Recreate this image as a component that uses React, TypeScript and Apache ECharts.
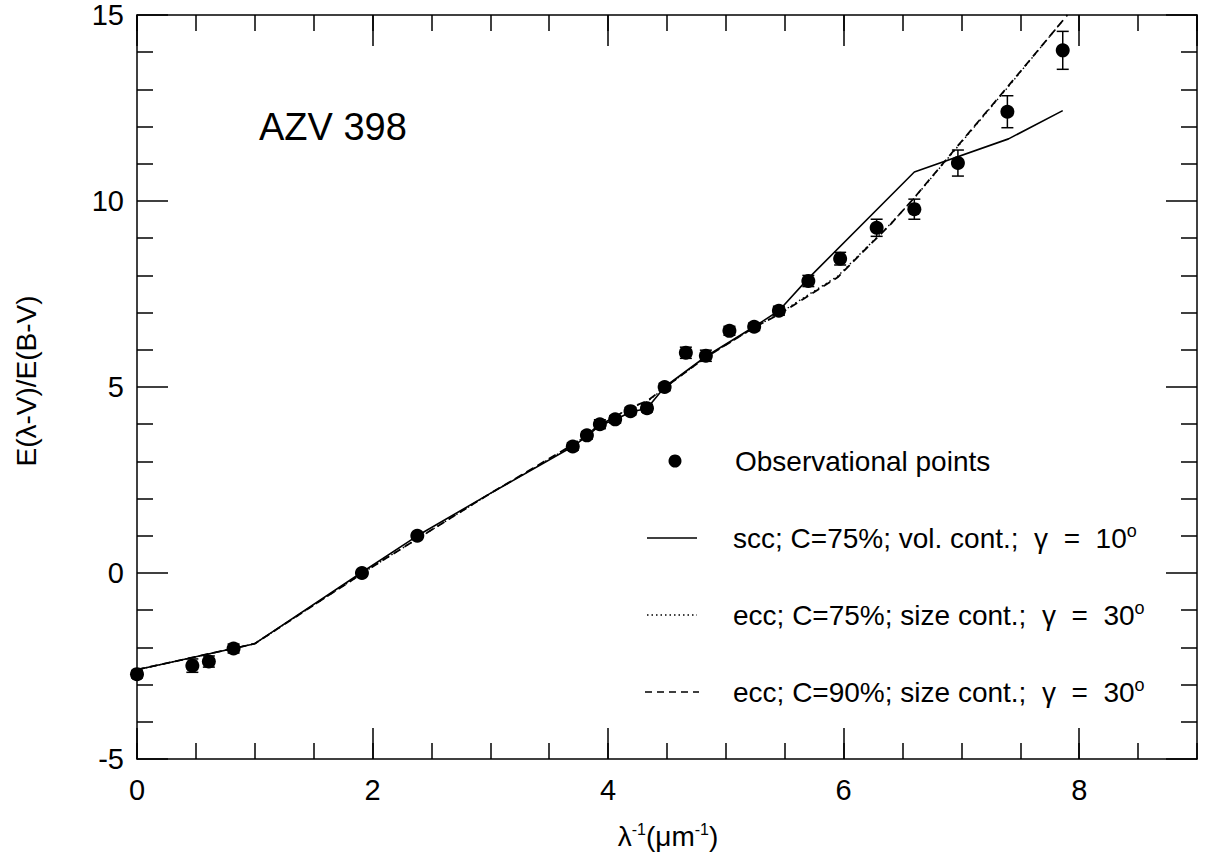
import React, { useEffect, useRef } from "react";
import * as echarts from "echarts";

// Observational points
const obsX = [0, 0.47, 0.61, 0.82, 1.91, 2.38, 3.70, 3.82, 3.93, 4.06, 4.19, 4.33, 4.48, 4.66, 4.83, 5.03, 5.24, 5.45, 5.70, 5.97, 6.28, 6.60, 6.97, 7.39, 7.86];
const obsY = [-2.72, -2.49, -2.38, -2.03, 0.0, 1.0, 3.4, 3.7, 4.0, 4.13, 4.35, 4.43, 5.0, 5.92, 5.84, 6.51, 6.62, 7.05, 7.85, 8.45, 9.28, 9.78, 11.02, 12.4, 14.05];
const obsErr = [0.1, 0.18, 0.15, 0.12, 0, 0, 0.1, 0.1, 0.12, 0.1, 0.1, 0.1, 0.1, 0.15, 0.15, 0.12, 0.1, 0.12, 0.15, 0.17, 0.23, 0.27, 0.35, 0.43, 0.51];

// scc; C=75%; vol. cont.; gamma = 10
const sccX = [0, 1.0, 1.91, 2.38, 3.0, 3.70, 3.82, 3.93, 4.06, 4.19, 4.33, 4.48, 4.83, 5.24, 5.45, 5.70, 6.60, 7.40, 7.86];
const sccY = [-2.6, -1.9, 0.02, 1.0, 2.14, 3.4, 3.68, 3.97, 4.12, 4.33, 4.42, 5.0, 5.82, 6.62, 7.05, 7.92, 10.78, 11.67, 12.43];

// ecc; C=75%; size cont.; gamma = 30
const ecc75X = [0, 1.0, 2.0, 3.0, 3.70, 3.93, 4.06, 4.19, 4.33, 4.48, 4.83, 5.24, 5.45, 5.70, 5.95, 6.20, 6.40, 6.60, 7.00, 7.40, 7.86];
const ecc75Y = [-2.6, -1.9, 0.17, 2.14, 3.43, 3.98, 4.2, 4.45, 4.6, 4.98, 5.8, 6.6, 6.97, 7.48, 7.98, 8.77, 9.39, 10.08, 11.58, 13.08, 14.85];

// ecc; C=90%; size cont.; gamma = 30
const ecc90X = [0, 1.0, 2.0, 3.0, 3.70, 3.93, 4.06, 4.19, 4.33, 4.48, 4.83, 5.24, 5.45, 5.70, 5.95, 6.20, 6.40, 6.60, 7.00, 7.40, 7.90];
const ecc90Y = [-2.6, -1.9, 0.17, 2.14, 3.45, 3.98, 4.2, 4.45, 4.62, 4.98, 5.8, 6.6, 6.95, 7.45, 7.95, 8.75, 9.38, 10.09, 11.6, 13.1, 15.0];

const xMin = 0, xMax = 9, yMin = -5, yMax = 15;

const FONT = "'Liberation Sans', Arial, Helvetica, sans-serif";

const zip = (xs: number[], ys: number[]) => xs.map((x, i) => [x, ys[i]]);

export default function App() {
  const ref = useRef<HTMLDivElement>(null);
  useEffect(() => {
    if (!ref.current) return;
    const chart = echarts.init(ref.current, undefined, { renderer: "svg" });
    const black = "#000";
    const axisBase = (extra: any) => ({
      type: "value",
      min: xMin,
      max: xMax,
      splitLine: { show: false },
      axisLine: { show: true, onZero: false, lineStyle: { color: black, width: 1.5 } },
      ...extra,
    });
    const xAxes = [
      axisBase({
        position: "bottom",
        interval: 2,
        axisTick: { show: true, inside: true, length: 31, lineStyle: { color: black, width: 1.5 } },
        axisLabel: { show: true, margin: 16, color: black, fontSize: 29, fontFamily: FONT, showMaxLabel: false },
      }),
      axisBase({
        position: "bottom",
        interval: 0.5,
        axisLine: { show: false, onZero: false },
        axisTick: { show: true, inside: true, length: 16, lineStyle: { color: black, width: 1.5 } },
        axisLabel: { show: false },
      }),
      axisBase({
        position: "top",
        interval: 2,
        axisTick: { show: true, inside: true, length: 31, lineStyle: { color: black, width: 1.5 } },
        axisLabel: { show: false },
      }),
      axisBase({
        position: "top",
        interval: 0.5,
        axisLine: { show: false, onZero: false },
        axisTick: { show: true, inside: true, length: 16, lineStyle: { color: black, width: 1.5 } },
        axisLabel: { show: false },
      }),
    ];
    const yAxisBase = (extra: any) => ({
      type: "value",
      min: yMin,
      max: yMax,
      interval: 5,
      splitLine: { show: false },
      axisLine: { show: true, onZero: false, lineStyle: { color: black, width: 1.5 } },
      axisTick: { show: true, inside: true, length: 31, lineStyle: { color: black, width: 1.5 } },
      minorTick: { show: true, splitNumber: 5, length: 16, lineStyle: { color: black, width: 1.5 } },
      ...extra,
    });
    const yAxes = [
      yAxisBase({
        position: "left",
        axisLabel: { show: true, margin: 13, color: black, fontSize: 29, fontFamily: FONT },
      }),
      yAxisBase({
        position: "right",
        axisLabel: { show: false },
      }),
    ];

    const errData = obsX.map((x, i) => [x, obsY[i], obsErr[i]]);

    const legendTextStyle = { fill: black, fontSize: 28, fontFamily: FONT, textVerticalAlign: "middle" } as any;
    const supRich = { s: { fontSize: 18, fontFamily: FONT, fill: black, verticalAlign: "top", padding: [0, 0, 14, 0] } };

    chart.setOption({
      animation: false,
      backgroundColor: "#fff",
      grid: { left: 137, right: 11, top: 15, bottom: 101, containLabel: false },
      xAxis: xAxes,
      yAxis: yAxes,
      series: [
        {
          name: "scc",
          type: "line",
          data: zip(sccX, sccY),
          showSymbol: false,
          symbol: "none",
          lineStyle: { color: black, width: 1.6, type: "solid" },
          z: 3,
        },
        {
          name: "ecc75",
          type: "line",
          data: zip(ecc75X, ecc75Y),
          showSymbol: false,
          symbol: "none",
          lineStyle: { color: black, width: 1.4, type: [1.5, 3] },
          z: 3,
        },
        {
          name: "ecc90",
          type: "line",
          data: zip(ecc90X, ecc90Y),
          showSymbol: false,
          symbol: "none",
          clip: true,
          lineStyle: { color: black, width: 1.8, type: [8, 5] },
          z: 3,
        },
        {
          name: "errors",
          type: "custom",
          data: errData,
          z: 4,
          renderItem: (params: any, api: any) => {
            const x = api.value(0);
            const y = api.value(1);
            const e = api.value(2);
            if (!e) return { type: "group", children: [] };
            const top = api.coord([x, y + e]);
            const bot = api.coord([x, y - e]);
            const hw = 6;
            const st = { stroke: black, lineWidth: 1.5 };
            return {
              type: "group",
              children: [
                { type: "line", shape: { x1: top[0], y1: top[1], x2: bot[0], y2: bot[1] }, style: st },
                { type: "line", shape: { x1: top[0] - hw, y1: top[1], x2: top[0] + hw, y2: top[1] }, style: st },
                { type: "line", shape: { x1: bot[0] - hw, y1: bot[1], x2: bot[0] + hw, y2: bot[1] }, style: st },
              ],
            };
          },
        },
        {
          name: "Observational points",
          type: "scatter",
          data: zip(obsX, obsY),
          symbol: "circle",
          symbolSize: 14,
          itemStyle: { color: black, opacity: 1 },
          z: 5,
        },
      ],
      graphic: [
        {
          type: "text",
          left: 259,
          top: 108,
          style: { text: "AZV 398", fill: black, fontSize: 38, fontFamily: FONT },
        },
        // legend
        { type: "circle", shape: { cx: 675, cy: 461, r: 6.5 }, style: { fill: black } },
        { type: "text", x: 735, y: 461, style: { ...legendTextStyle, text: "Observational points" } },
        { type: "line", shape: { x1: 647, y1: 538, x2: 697, y2: 538 }, style: { stroke: black, lineWidth: 1.6 } },
        {
          type: "text",
          x: 733,
          y: 538,
          style: { ...legendTextStyle, text: "scc; C=75%; vol. cont.;  γ  =  10{s|o}", rich: supRich },
        },
        { type: "line", shape: { x1: 647, y1: 615, x2: 697, y2: 615 }, style: { stroke: black, lineWidth: 1.4, lineDash: [1.5, 3] } },
        {
          type: "text",
          x: 733,
          y: 615,
          style: { ...legendTextStyle, text: "ecc; C=75%; size cont.;  γ  =  30{s|o}", rich: supRich },
        },
        { type: "line", shape: { x1: 645, y1: 692, x2: 699, y2: 692 }, style: { stroke: black, lineWidth: 1.6, lineDash: [7, 5] } },
        {
          type: "text",
          x: 733,
          y: 692,
          style: { ...legendTextStyle, text: "ecc; C=90%; size cont.;  γ  =  30{s|o}", rich: supRich },
        },
        // axis titles
        {
          type: "text",
          x: 668,
          y: 836,
          style: {
            text: "λ{s|-1}(μm{s|-1})",
            fill: black,
            fontSize: 28,
            fontFamily: FONT,
            textAlign: "center",
            textVerticalAlign: "middle",
            rich: { s: { fontSize: 16, fontFamily: FONT, fill: black, padding: [0, 0, 14, 0] } },
          },
        },
        {
          type: "text",
          x: 26,
          y: 381,
          rotation: Math.PI / 2,
          style: {
            text: "E(λ-V)/E(B-V)",
            fill: black,
            fontSize: 28,
            fontFamily: FONT,
            textAlign: "center",
            textVerticalAlign: "middle",
          },
        },
      ],
    });
    return () => chart.dispose();
  }, []);
  return (
    <div
      ref={ref}
      style={{ position: "fixed", left: 0, top: 0, width: 1208, height: 860, background: "#fff" }}
    />
  );
}
